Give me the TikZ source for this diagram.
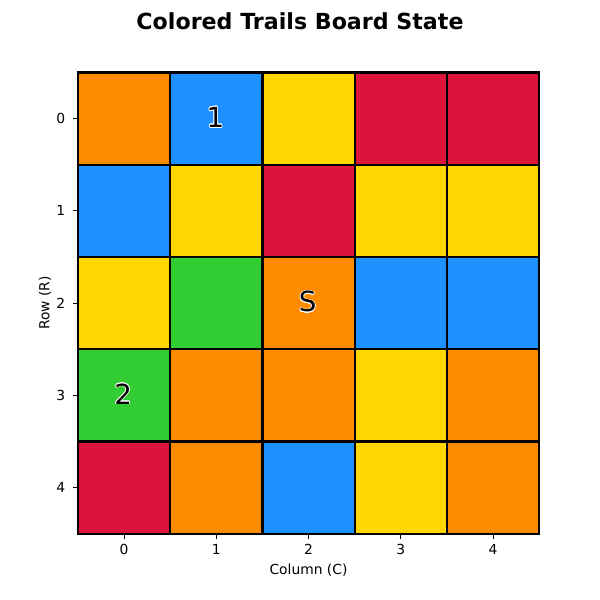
\documentclass[tikz,border=0pt]{standalone}
\usepackage{fontspec}
\setmainfont{DejaVu Sans}
\usepackage{contour}
\contourlength{0.5pt}
\definecolor{tOrange}{HTML}{FF8C00}
\definecolor{tBlue}{HTML}{1E90FF}
\definecolor{tYellow}{HTML}{FFD700}
\definecolor{tRed}{HTML}{DC143C}
\definecolor{tGreen}{HTML}{32CD32}
\tikzset{
  cell/.style={draw=black,line width=1.5pt},
  ticklabel/.style={font=\fontsize{10}{12}\selectfont},
  boardlabel/.style={font=\fontsize{20}{24}\selectfont}
}
\begin{document}
\begin{tikzpicture}[x=0.01in,y=-0.01in]
\useasboundingbox (0,0) rectangle (600,600);
\def\cs{92.25}
% board cells
\foreach \r/\row in {0/{tOrange,tBlue,tYellow,tRed,tRed},
                     1/{tBlue,tYellow,tRed,tYellow,tYellow},
                     2/{tYellow,tGreen,tOrange,tBlue,tBlue},
                     3/{tGreen,tOrange,tOrange,tYellow,tOrange},
                     4/{tRed,tOrange,tBlue,tYellow,tOrange}}{
  \foreach \col [count=\c from 0] in \row {
    \filldraw[cell,fill=\col] (78+\cs*\c,72.5+\cs*\r) rectangle ++(\cs,\cs);
  }
}
% ticks
\foreach \i in {0,...,4}{
  \draw[line width=0.6pt] (78+\cs*\i+\cs/2,534) -- ++(0,5);
  \node[ticklabel] (cl\i) at (78+\cs*\i+\cs/2,549) {\i};
  \draw[line width=0.6pt] (78,72.5+\cs*\i+\cs/2) -- ++(-5,0);
  \node[ticklabel,anchor=east] (rl\i) at (70,72.5+\cs*\i+\cs/2) {\i};
}
% markers on the board
\node[boardlabel] (one) at (78+\cs*1.5-1,72.5+\cs*0.5-1) {\contour{white}{1}};
\node[boardlabel] (start) at (78+\cs*2.5-1,72.5+\cs*2.5-1) {\contour{white}{S}};
\node[boardlabel] (two) at (78+\cs*0.5-1,72.5+\cs*3.5-1) {\contour{white}{2}};

\node[font=\fontsize{16}{19}\selectfont\bfseries] (title) at (300,21) {Colored Trails Board State};
\node[ticklabel] (xlab) at (308.5,570) {Column (C)};
\node[ticklabel,rotate=90] (ylab) at (45,303) {Row (R)};
\end{tikzpicture}
\end{document}
